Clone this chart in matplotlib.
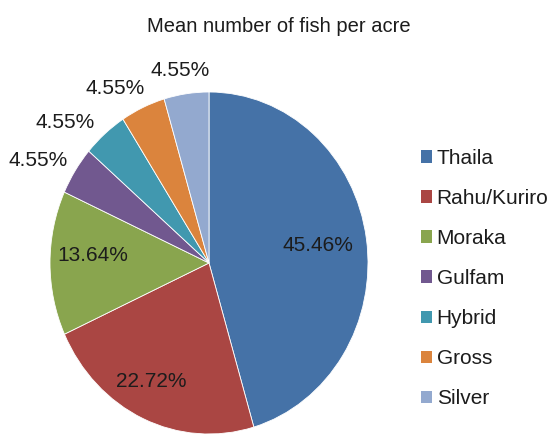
import matplotlib
matplotlib.use("Agg")
import numpy as np
import matplotlib.pyplot as plt
from matplotlib.patches import Patch

plt.rcParams['font.family'] = ['Liberation Sans', 'DejaVu Sans']

# Data
categories = ["Thaila", "Rahu/Kuriro", "Moraka", "Gulfam", "Hybrid", "Gross", "Silver"]
shares = [45.46, 22.72, 13.64, 4.55, 4.55, 4.55, 4.55]
title = "Mean number of fish per acre"

colors = ["#4572A7", "#AA4643", "#89A54E", "#71588F", "#4198AF", "#DB843D", "#93A9CF"]

# label placement (radius relative to the pie, angular nudge in degrees)
label_radius = [0.69, 0.78, 0.73, 1.23, 1.22, 1.18, 1.14]
label_nudge = [0.3, -3.0, -3.5, 3.5, 6.8, 5.5, 0.9]

W, H = 555, 438
fig = plt.figure(figsize=(W / 100, H / 100), dpi=100)
fig.patch.set_facecolor("white")

# pie area (slightly taller than wide)
left, right, top, bottom = 50, 368, 92, 434
ax = fig.add_axes([left / W, 1 - bottom / H, (right - left) / W, (bottom - top) / H])

wedges, _ = ax.pie(shares, colors=colors, startangle=90, counterclock=False,
                   wedgeprops=dict(edgecolor="white", linewidth=0.6))
ax.set_aspect("auto")
ax.set_xlim(-1, 1)
ax.set_ylim(-1, 1)
ax.axis("off")

for w, val, r, nudge in zip(wedges, shares, label_radius, label_nudge):
    ang = np.deg2rad((w.theta1 + w.theta2) / 2 + nudge)
    ax.text(r * np.cos(ang), r * np.sin(ang), f"{val:.2f}%",
            ha="center", va="center", fontsize=15, color="#1c1c1c", clip_on=False)

fig.text(279 / W, 1 - 27 / H, title, ha="center", va="center",
         fontsize=14.5, color="#1c1c1c")

handles = [Patch(facecolor=c, edgecolor="none") for c in colors]
fig.legend(handles, categories, loc="upper left",
           bbox_to_anchor=(421 / W, 1 - 149 / H), frameon=False,
           fontsize=15, handlelength=0.55, handleheight=0.55,
           handletextpad=0.2, labelspacing=1.01, borderpad=0, borderaxespad=0,
           labelcolor="#1c1c1c")

fig.savefig("out.png", dpi=100, facecolor="white")
